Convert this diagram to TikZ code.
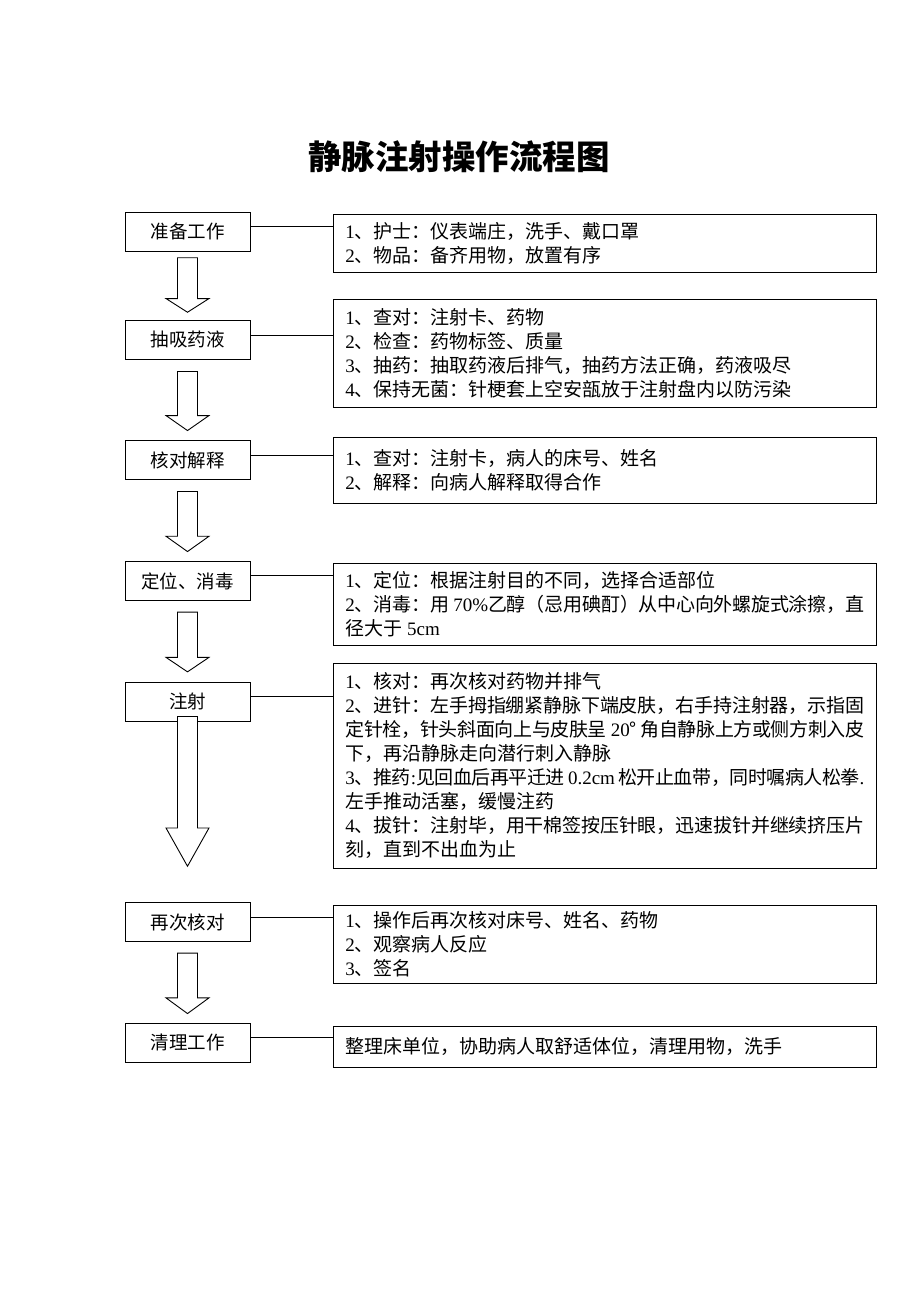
\documentclass[tikz,border=0pt]{standalone}
\usepackage{fontspec}
\setmainfont{Noto Sans CJK SC}
\newfontfamily\lat{Liberation Serif}
\usetikzlibrary{calc}
\XeTeXlinebreaklocale "zh"
\XeTeXlinebreakskip = 0pt plus 1pt minus 0.6pt
\newcommand{\romn}[1]{{\lat #1}}
\newcommand{\flowarrow}[5]{%
  \draw[arrowbody] let \p1=(#1.south), \p2=(#2.north) in
    (\x1-10pt,\y1-#3) -- (\x1+10pt,\y1-#3) -- (\x1+10pt,\y2+#4+#5)
    -- (\x1+21.5pt,\y2+#4+#5) -- (\x1,\y2+#4) -- (\x1-21.5pt,\y2+#4+#5)
    -- (\x1-10pt,\y2+#4+#5) -- cycle;}
\begin{document}
\begin{tikzpicture}[x=1pt, y=-1pt,
    stepbox/.style={draw, line width=0.9pt, minimum width=125pt, minimum height=39pt,
      inner sep=0pt, font=\fontsize{18.5}{22}\selectfont},
    notebox/.style={draw, line width=0.9pt, anchor=north west, minimum width=543pt,
      text width=519pt, inner xsep=12pt, inner ysep=0pt, align=justify,
      font=\fontsize{19}{24}\selectfont},
    link/.style={line width=0.9pt},
    arrowbody/.style={draw, fill=white, line width=0.9pt, line join=miter}]
        \useasboundingbox (0,0) rectangle (920,1302);

        % Title
        \node[font=\fontsize{33.5}{40}\selectfont\bfseries] (title) at (459,157) {静脉注射操作流程图};

        % Steps
        \node[stepbox] (prep) at (187.5,231.5) {准备工作};
        \node[stepbox] (absorb) at (187.5,339.5) {抽吸药液};
        \node[stepbox] (verify) at (187.5,460) {核对解释};
        \node[stepbox] (locate) at (187.5,581) {定位、消毒};
        \node[stepbox] (inject) at (187.5,701.5) {注射};
        \node[stepbox] (recheck) at (187.5,922) {再次核对};
        \node[stepbox] (tidy) at (187.5,1042.7) {清理工作};

        % Notes
        \node[notebox, minimum height=58pt] (note1) at (333,214) {%
          \romn{1}、护士：仪表端庄，洗手、戴口罩\\
          \romn{2}、物品：备齐用物，放置有序};
        \node[notebox, minimum height=108pt] (note2) at (333,299) {%
          \romn{1}、查对：注射卡、药物\\
          \romn{2}、检查：药物标签、质量\\
          \romn{3}、抽药：抽取药液后排气，抽药方法正确，药液吸尽\\
          \romn{4}、保持无菌：针梗套上空安瓿放于注射盘内以防污染};
        \node[notebox, minimum height=66pt] (note3) at (333,437) {%
          \romn{1}、查对：注射卡，病人的床号、姓名\\
          \romn{2}、解释：向病人解释取得合作};
        \node[notebox, minimum height=82pt] (note4) at (333,563) {%
          \romn{1}、定位：根据注射目的不同，选择合适部位\\
          \romn{2}、消毒：用\romn{ 70\%}乙醇（忌用碘酊）从中心向外螺旋式涂擦，直\linebreak
          径大于\romn{ 5cm}};
        \node[notebox, minimum height=205pt] (note5) at (333,663) {%
          \romn{1}、核对：再次核对药物并排气\\
          \romn{2}、进针：左手拇指绷紧静脉下端皮肤，右手持注射器，示指固\linebreak
          定针栓，针头斜面向上与皮肤呈\romn{ 20}°\romn{ }角自静脉上方或侧方刺入皮\linebreak
          下，再沿静脉走向潜行刺入静脉\\
          \romn{3}、推药\romn{:}见回血后再平迁进\romn{ 0.2cm }松开止血带，同时嘱病人松拳\romn{.}\linebreak
          左手推动活塞，缓慢注药\\
          \romn{4}、拔针：注射毕，用干棉签按压针眼，迅速拔针并继续挤压片\linebreak
          刻，直到不出血为止};
        \node[notebox, minimum height=78pt] (note6) at (333,905) {%
          \romn{1}、操作后再次核对床号、姓名、药物\\
          \romn{2}、观察病人反应\\
          \romn{3}、签名};
        \node[notebox, minimum height=41pt] (note7) at (333,1026) {%
          整理床单位，协助病人取舒适体位，清理用物，洗手};

        % Links
        \draw[link] ([yshift=5.5pt]prep.east) -- ([yshift=5.5pt]prep.east -| note1.west);
        \draw[link] ([yshift=4.5pt]absorb.east) -- ([yshift=4.5pt]absorb.east -| note2.west);
        \draw[link] ([yshift=5pt]verify.east) -- ([yshift=5pt]verify.east -| note3.west);
        \draw[link] ([yshift=5.5pt]locate.east) -- ([yshift=5.5pt]locate.east -| note4.west);
        \draw[link] ([yshift=5.5pt]inject.east) -- ([yshift=5.5pt]inject.east -| note5.west);
        \draw[link] ([yshift=4.7pt]recheck.east) -- ([yshift=4.7pt]recheck.east -| note6.west);
        \draw[link] ([yshift=5pt]tidy.east) -- ([yshift=5pt]tidy.east -| note7.west);

        % Arrows
        \flowarrow{prep}{absorb}{6.3pt}{7.3pt}{13.7pt}
        \flowarrow{absorb}{verify}{12pt}{9.5pt}{15pt}
        \flowarrow{verify}{locate}{11.5pt}{9.5pt}{15.3pt}
        \flowarrow{locate}{inject}{11.2pt}{9.7pt}{14.5pt}
        \flowarrow{inject}{recheck}{-5pt}{35.8pt}{38.3pt}
        \flowarrow{recheck}{tidy}{11.2pt}{9.2pt}{15.7pt}
\end{tikzpicture}
\end{document}
